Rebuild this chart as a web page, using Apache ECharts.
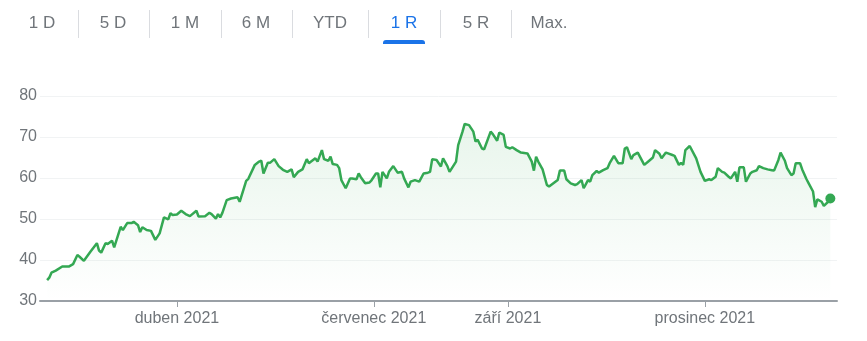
<!DOCTYPE html>
<html>
<head>
<meta charset="utf-8">
<script src="https://cdn.jsdelivr.net/npm/echarts@6/dist/echarts.min.js"></script>
<style>
  html, body { margin: 0; padding: 0; background: #ffffff; }
  #main { width: 867px; height: 341px; }
</style>
</head>
<body>
<div id="main"></div>
<script>
// ---- data ----
const dates = [
'2021-01-31','2021-02-01','2021-02-02','2021-02-04','2021-02-07','2021-02-10','2021-02-12','2021-02-14','2021-02-15','2021-02-17',
'2021-02-20','2021-02-23','2021-02-24','2021-02-25','2021-02-27','2021-02-28','2021-03-02','2021-03-03','2021-03-06','2021-03-07',
'2021-03-09','2021-03-11','2021-03-12','2021-03-14','2021-03-15','2021-03-16','2021-03-18','2021-03-20','2021-03-22','2021-03-24',
'2021-03-26','2021-03-28','2021-03-29','2021-03-30','2021-04-01','2021-04-03','2021-04-05','2021-04-07','2021-04-10','2021-04-11',
'2021-04-14','2021-04-16','2021-04-17','2021-04-19','2021-04-20','2021-04-21','2021-04-22','2021-04-24','2021-04-26','2021-04-29',
'2021-04-30','2021-05-03','2021-05-04','2021-05-07','2021-05-09','2021-05-10','2021-05-11','2021-05-13','2021-05-14','2021-05-16',
'2021-05-18','2021-05-20','2021-05-22','2021-05-24','2021-05-25','2021-05-27','2021-05-29','2021-05-31','2021-06-01','2021-06-02',
'2021-06-04','2021-06-05','2021-06-07','2021-06-08','2021-06-10','2021-06-11','2021-06-12','2021-06-14','2021-06-15','2021-06-16',
'2021-06-18','2021-06-20','2021-06-21','2021-06-23','2021-06-24','2021-06-25','2021-06-27','2021-06-29','2021-06-30','2021-07-02',
'2021-07-03','2021-07-04','2021-07-05','2021-07-07','2021-07-08','2021-07-10','2021-07-12','2021-07-14','2021-07-15','2021-07-17',
'2021-07-18','2021-07-20','2021-07-22','2021-07-24','2021-07-26','2021-07-27','2021-07-28','2021-07-30','2021-08-01','2021-08-02',
'2021-08-04','2021-08-05','2021-08-08','2021-08-09','2021-08-11','2021-08-12','2021-08-14','2021-08-16','2021-08-17','2021-08-18',
'2021-08-20','2021-08-21','2021-08-24','2021-08-25','2021-08-27','2021-08-28','2021-08-30','2021-08-31','2021-09-02','2021-09-03',
'2021-09-05','2021-09-07','2021-09-10','2021-09-12','2021-09-13','2021-09-14','2021-09-15','2021-09-17','2021-09-19','2021-09-20',
'2021-09-22','2021-09-24','2021-09-25','2021-09-27','2021-09-28','2021-09-30','2021-10-02','2021-10-03','2021-10-05','2021-10-06',
'2021-10-08','2021-10-09','2021-10-10','2021-10-12','2021-10-13','2021-10-15','2021-10-17','2021-10-18','2021-10-20','2021-10-22',
'2021-10-24','2021-10-25','2021-10-26','2021-10-28','2021-10-29','2021-10-31','2021-11-03','2021-11-05','2021-11-07','2021-11-08',
'2021-11-10','2021-11-11','2021-11-13','2021-11-14','2021-11-16','2021-11-17','2021-11-19','2021-11-20','2021-11-21','2021-11-22',
'2021-11-24','2021-11-27','2021-11-29','2021-12-01','2021-12-03','2021-12-04','2021-12-06','2021-12-07','2021-12-09','2021-12-10',
'2021-12-12','2021-12-13','2021-12-15','2021-12-16','2021-12-17','2021-12-19','2021-12-20','2021-12-22','2021-12-23','2021-12-25',
'2021-12-26','2021-12-28','2021-12-30','2022-01-01','2022-01-02','2022-01-04','2022-01-05','2022-01-07','2022-01-08','2022-01-10',
'2022-01-11','2022-01-12','2022-01-14','2022-01-15','2022-01-17','2022-01-18','2022-01-20','2022-01-21','2022-01-22','2022-01-24',
'2022-01-25','2022-01-27','2022-01-28'
];
const prices = [
35.1, 35.7, 36.9, 37.4, 38.4, 38.4, 39.0, 41.2, 40.8, 39.8,
42.0, 44.1, 42.3, 41.8, 44.1, 43.9, 44.7, 43.1, 48.1, 47.3,
49.0, 49.0, 49.3, 48.5, 46.8, 48.0, 47.3, 47.1, 44.9, 46.5,
50.4, 49.9, 51.4, 51.0, 51.1, 52.0, 51.2, 50.7, 52.0, 50.6,
50.7, 51.5, 51.2, 50.1, 51.2, 50.4, 51.5, 54.6, 55.0, 55.3,
54.2, 59.3, 59.8, 63.2, 64.0, 64.2, 61.1, 63.7, 63.7, 64.6,
62.9, 62.0, 61.5, 62.1, 60.2, 61.5, 62.1, 64.6, 63.6, 64.0,
64.8, 64.0, 66.8, 64.6, 64.2, 65.2, 63.4, 63.2, 62.4, 59.5,
57.5, 59.9, 59.9, 59.7, 61.1, 60.2, 58.7, 58.9, 59.5, 61.1,
61.1, 57.7, 61.5, 59.9, 61.5, 62.9, 61.3, 61.5, 59.9, 57.7,
59.1, 59.5, 59.1, 61.1, 61.3, 61.5, 64.6, 64.4, 62.8, 64.8,
62.9, 61.5, 64.0, 68.0, 71.3, 73.2, 72.9, 71.3, 68.9, 69.3,
67.2, 67.0, 71.3, 70.7, 69.1, 71.1, 70.5, 67.6, 67.2, 67.5,
66.8, 66.2, 66.0, 64.0, 61.8, 65.2, 64.0, 62.1, 58.3, 57.9,
58.7, 59.5, 61.8, 61.8, 59.7, 58.7, 58.3, 58.5, 59.5, 57.5,
59.5, 59.1, 60.7, 61.7, 61.3, 61.9, 62.4, 63.6, 65.4, 63.6,
63.6, 67.2, 67.5, 64.6, 65.6, 66.2, 63.2, 64.1, 65.0, 66.8,
65.9, 64.8, 66.2, 66.0, 65.6, 65.4, 63.2, 63.7, 63.2, 66.8,
67.8, 64.8, 61.5, 59.3, 59.7, 59.5, 60.3, 62.4, 61.5, 61.3,
60.3, 59.9, 61.5, 59.1, 62.6, 62.6, 59.1, 61.1, 61.5, 61.9,
62.9, 62.4, 62.1, 61.9, 61.8, 64.4, 66.2, 64.2, 62.4, 60.7,
61.1, 63.6, 63.6, 62.1, 59.7, 58.7, 56.7, 52.9, 54.8, 54.2,
53.2, 54.2, 55.0
];
const tickDates = ['2021-04-01', '2021-07-01', '2021-09-01', '2021-12-01'];
const tickLabels = ['duben 2021', 'červenec 2021', 'září 2021', 'prosinec 2021'];
const yTicks = [30, 40, 50, 60, 70, 80];
const tabLabels = ['1 D', '5 D', '1 M', '6 M', 'YTD', '1 R', '5 R', 'Max.'];
const activeTab = '1 R';

// ---- layout / style ----
const FONT = 'Arial, "Liberation Sans", sans-serif';
const GREEN = '#34a853';
const GREY_TEXT = '#70757a';

const toTs = d => new Date(d + 'T00:00:00').getTime();
const tickTs = tickDates.map(toTs);
const seriesData = dates.map((d, i) => [toTs(d), prices[i]]);
const lastPoint = seriesData[seriesData.length - 1];

// tab bar graphic elements
const tabCenters = [42, 113, 185, 256, 330, 404, 476, 549];
const sepX = [78, 149, 221, 292, 368, 440, 511];
const graphics = [];
tabLabels.forEach((t, i) => {
  graphics.push({
    type: 'text', x: tabCenters[i], y: 23,
    style: {
      text: t, fill: t === activeTab ? '#1a73e8' : GREY_TEXT,
      font: '17px ' + FONT, textAlign: 'center', textVerticalAlign: 'middle'
    }
  });
});
sepX.forEach(x => {
  graphics.push({ type: 'line', shape: { x1: x + 0.5, y1: 10, x2: x + 0.5, y2: 38 }, style: { stroke: '#dadce0', lineWidth: 1 } });
});
const ai = tabLabels.indexOf(activeTab);
graphics.push({ type: 'rect', shape: { x: tabCenters[ai] - 21, y: 40, width: 42, height: 4, r: [3, 3, 0, 0] }, style: { fill: '#1a73e8' } });

const chart = echarts.init(document.getElementById('main'));
chart.setOption({
  animation: false,
  backgroundColor: '#ffffff',
  graphic: graphics,
  grid: { left: 40, right: 30, top: 96, bottom: 40, containLabel: false },
  xAxis: {
    type: 'value',
    min: new Date(2021, 0, 27, 17).getTime(),
    max: new Date(2022, 0, 31, 2).getTime(),
    axisLine: { show: true, lineStyle: { color: '#9aa0a6', width: 2 } },
    axisTick: { show: true, customValues: tickTs, length: 6, lineStyle: { color: '#9aa0a6', width: 1 } },
    axisLabel: {
      customValues: tickTs,
      formatter: function (v) {
        let best = 0, bd = Infinity;
        tickTs.forEach((t, i) => { const d = Math.abs(t - v); if (d < bd) { bd = d; best = i; } });
        return tickLabels[best];
      },
      color: GREY_TEXT, fontSize: 16, fontFamily: FONT, margin: 10
    },
    splitLine: { show: false }
  },
  yAxis: {
    type: 'value',
    min: yTicks[0], max: yTicks[yTicks.length - 1], interval: 10,
    axisLine: { show: false },
    axisTick: { show: false },
    axisLabel: { color: GREY_TEXT, fontSize: 16, fontFamily: FONT, margin: 3 },
    splitLine: { lineStyle: { color: '#f1f3f4', width: 1 } }
  },
  series: [
    {
      type: 'line',
      data: seriesData,
      showSymbol: false,
      smooth: false,
      lineStyle: { color: GREEN, width: 2.5 },
      areaStyle: {
        color: new echarts.graphic.LinearGradient(0, 0, 0, 1, [
          { offset: 0, color: 'rgba(52,168,83,0.16)' },
          { offset: 1, color: 'rgba(52,168,83,0)' }
        ])
      },
      z: 3
    },
    {
      type: 'scatter',
      data: [lastPoint],
      symbol: 'circle',
      symbolSize: 10,
      itemStyle: { color: GREEN, opacity: 1 },
      z: 4
    }
  ]
});
</script>
</body>
</html>
